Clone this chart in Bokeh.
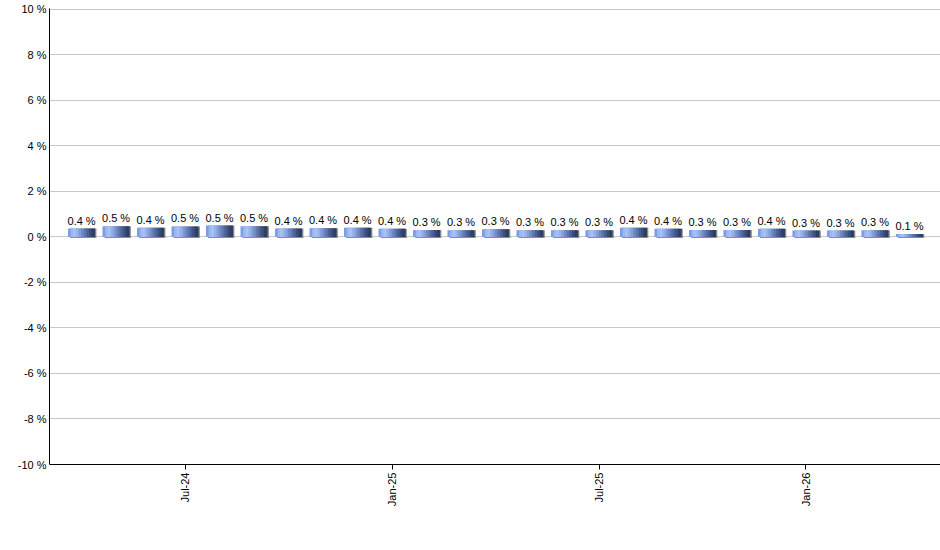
import math
from bokeh.plotting import figure
from bokeh.models import ColumnDataSource, FixedTicker
from bokeh.transform import dodge
from bokeh.core.properties import value
from bokeh.embed import file_html
from bokeh.resources import INLINE

# Daten
months = ["Apr-24", "May-24", "Jun-24", "Jul-24", "Aug-24", "Sep-24", "Oct-24", "Nov-24",
          "Dec-24", "Jan-25", "Feb-25", "Mar-25", "Apr-25", "May-25", "Jun-25", "Jul-25",
          "Aug-25", "Sep-25", "Oct-25", "Nov-25", "Dec-25", "Jan-26", "Feb-26", "Mar-26",
          "Apr-26"]
values = [0.37, 0.47, 0.41, 0.46, 0.50, 0.47, 0.37, 0.38, 0.40, 0.36, 0.31, 0.30, 0.34,
          0.30, 0.30, 0.30, 0.40, 0.36, 0.31, 0.31, 0.36, 0.28, 0.28, 0.29, 0.13]
shown_months = ["Jul-24", "Jan-25", "Jul-25", "Jan-26"]
y_ticks = [-10, -8, -6, -4, -2, 0, 2, 4, 6, 8, 10]

src = ColumnDataSource(dict(
    x=list(range(len(months))),
    v=values,
    lbl=[f"{v:.1f} %" for v in values],
))

FONT = "Liberation Sans"

p = figure(width=940, height=550,
           x_range=(-0.93, 24.9), y_range=(-10, 10.04),
           output_backend="svg", toolbar_location=None,
           min_border_left=49, min_border_right=0,
           min_border_top=8, min_border_bottom=86)
p.outline_line_color = None
p.xgrid.grid_line_color = None
p.ygrid.grid_line_color = "#c8c8c8"

# Schatten
p.vbar(x=dodge("x", 0.05, range=p.x_range), top="v", bottom=-0.05, width=0.76,
       source=src, fill_color="#8c8c8c", line_color=None)

# Balken mit Farbverlauf (in Streifen)
grad = ["#7d9de0", "#9ab8f2", "#a6c2f6", "#97b2ea", "#849fd8",
        "#7089c2", "#5d75aa", "#4b6192", "#3b4f7b", "#2e3f66"]
bw = 0.76
n = len(grad)
for k, c in enumerate(grad):
    off = -bw / 2 + bw / n * (k + 0.5)
    p.vbar(x=dodge("x", off, range=p.x_range), top="v", bottom=0,
           width=bw / n + 0.025, source=src, fill_color=c, line_color=None)

p.text(x="x", y="v", text="lbl", source=src, y_offset=-8,
       text_align="center", text_baseline="alphabetic",
       text_font=value(FONT), text_font_size="11px", text_color="#000000")

# Achsen
p.yaxis.ticker = FixedTicker(ticks=y_ticks)
p.yaxis.major_label_overrides = {t: f"{t} %" for t in y_ticks}
p.yaxis.major_tick_out = 0
p.yaxis.major_tick_in = 0
p.yaxis.minor_tick_line_color = None
p.yaxis.major_label_standoff = 3
p.yaxis.axis_line_color = "black"

x_ticks = [months.index(m) for m in shown_months]
p.xaxis.ticker = FixedTicker(ticks=x_ticks)
p.xaxis.major_label_overrides = {i: m for i, m in zip(x_ticks, shown_months)}
p.xaxis.major_label_orientation = math.pi / 2
p.xaxis.major_tick_out = 5
p.xaxis.major_tick_in = 0
p.xaxis.minor_tick_line_color = None
p.xaxis.major_label_standoff = 3
p.xaxis.axis_line_color = "black"

for ax in (p.xaxis, p.yaxis):
    ax.major_label_text_font = FONT
    ax.major_label_text_font_size = "11px"
    ax.major_label_text_color = "black"

open("out.html", "w").write(file_html(p, INLINE))
